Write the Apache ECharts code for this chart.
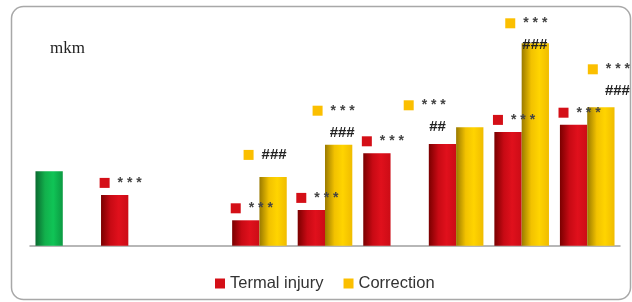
<!DOCTYPE html>
<html>
<head>
<meta charset="utf-8">
<style>
  html, body { margin: 0; padding: 0; background: #fff; }
  #chart { width: 632px; height: 302px; }
</style>
<script src="https://cdn.jsdelivr.net/npm/echarts@6/dist/echarts.min.js"></script>
</head>
<body>
<div id="chart"></div>
<script>
var categories = ["1", "2", "3", "4", "5", "6", "7", "8", "9"];
// first value is the intact control (drawn green)
var termalInjury = [37.2, 25.4, null, 12.7, 17.9, 46.2, 50.9, 56.9, 60.5];
var correction = [null, null, null, 34.4, 50.5, null, 59.2, 101.2, 69.2];
// significance marks
var injuryMarks = ["", "***", "", "***", "***", "***", "", "***", "***"];
var correctionMarks = ["", "", "", "", "***", "", "***", "***", "***"];
var correctionHash = ["", "", "", "###", "###", "", "##", "###", "###"];

var RED = "#d40f17";
var YELLOW = "#fbbf00";

function grad(c0, c1, c2, c3) {
  return new echarts.graphic.LinearGradient(0, 0, 1, 0, [
    { offset: 0, color: c0 },
    { offset: 0.35, color: c1 },
    { offset: 0.65, color: c2 },
    { offset: 1, color: c3 },
  ]);
}
var redFill = grad("#7a0000", "#c80a14", "#e0101c", "#cc0c16");
var yellowFill = grad("#9a7a00", "#f2c200", "#ffd400", "#f0bc00");
var greenFill = grad("#0a6a30", "#12b04c", "#10c456", "#0c9a42");

var rich = {
  sq: { width: 10, height: 10, lineHeight: 22 },
  st: { color: "#444", fontSize: 14, fontWeight: "bold", fontFamily: "Liberation Sans", padding: [0, 0, 0, 8], lineHeight: 22 },
  hs: { color: "#222", fontSize: 15, fontWeight: "bold", fontFamily: "Liberation Sans", lineHeight: 22, align: "right" },
};
function spaced(s) { return s.split("").join(" "); }

// per-item label nudges for the Correction marks
var corrOffsets = [[0, 0], [0, 0], [0, 0], [-8, -6], [-5, 4], [0, 0], [-45, 16], [-9, 18], [8, 0]];

var injuryData = termalInjury.map(function (v, i) {
  var item = { value: v };
  if (i === 0) item.itemStyle = { color: greenFill };
  return item;
});
var correctionData = correction.map(function (v, i) {
  return { value: v, label: { offset: corrOffsets[i] } };
});

var redRich = Object.assign({}, rich, { sq: Object.assign({}, rich.sq, { backgroundColor: RED }) });
var yelRich = Object.assign({}, rich, { sq: Object.assign({}, rich.sq, { backgroundColor: YELLOW }) });

var chart = echarts.init(document.getElementById("chart"));
chart.setOption({
  animation: false,
  title: {
    text: "mkm",
    left: 45,
    top: 35,
    textStyle: { fontFamily: "Liberation Serif", fontSize: 17, fontWeight: "normal", color: "#222" },
  },
  graphic: [
    {
      type: "rect",
      shape: { x: 11.5, y: 6.5, width: 619, height: 293, r: 12 },
      style: { fill: null, stroke: "#a8a8a8", lineWidth: 1.5 },
      silent: true,
    },
  ],
  legend: {
    left: 210,
    top: 270,
    itemWidth: 10,
    itemHeight: 10,
    itemGap: 20,
    icon: "rect",
    textStyle: { fontFamily: "Liberation Sans", fontSize: 16.5, color: "#333" },
    data: [
      { name: "Termal injury", itemStyle: { color: RED } },
      { name: "Correction", itemStyle: { color: YELLOW } },
    ],
  },
  grid: { left: 30, right: 12, top: 25.7, bottom: 56.3 },
  xAxis: {
    type: "category",
    data: categories,
    axisLine: { show: true, lineStyle: { color: "#a0a0a0", width: 1.5 } },
    axisTick: { show: false },
    axisLabel: { show: false },
  },
  yAxis: {
    type: "value",
    min: 0,
    max: 110,
    show: false,
    splitLine: { show: false },
  },
  series: [
    {
      name: "Termal injury",
      type: "bar",
      barWidth: 27.3,
      barGap: "0%",
      data: injuryData,
      itemStyle: { color: redFill },
      label: {
        show: true,
        position: "top",
        offset: [6, 4],
        rich: redRich,
        formatter: function (p) {
          var m = injuryMarks[p.dataIndex];
          return m ? "{sq|}{st|" + spaced(m) + "}" : "";
        },
      },
    },
    {
      name: "Correction",
      type: "bar",
      barWidth: 27.3,
      barGap: "0%",
      data: correctionData,
      itemStyle: { color: yellowFill },
      label: {
        show: true,
        position: "top",
        rich: yelRich,
        formatter: function (p) {
          var m = correctionMarks[p.dataIndex];
          var h = correctionHash[p.dataIndex];
          if (m && h) return "{sq|}{st|" + spaced(m) + "}\n{hs|" + h + "}";
          if (h) return "{sq|}{st|}{hs|" + h + "}";
          if (m) return "{sq|}{st|" + spaced(m) + "}";
          return "";
        },
      },
    },
  ],
});
</script>
</body>
</html>
